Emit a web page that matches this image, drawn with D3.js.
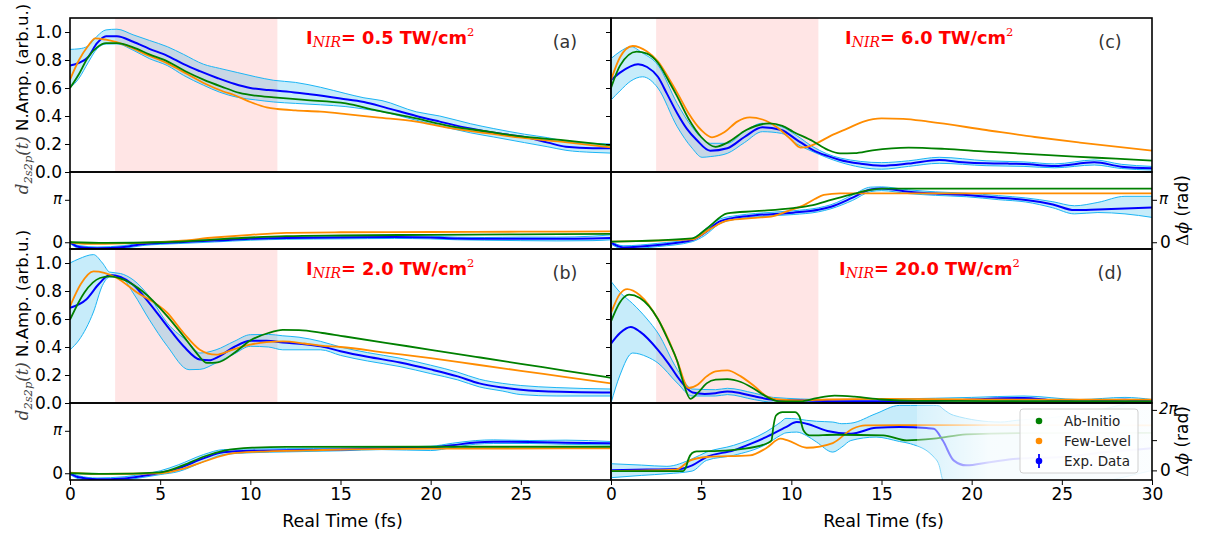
<!DOCTYPE html>
<html>
<head>
<meta charset="utf-8">
<script src="https://cdn.jsdelivr.net/npm/d3@7"></script>
<style>
  body { margin: 0; background: #fff; }
  svg text { font-family: "DejaVu Sans", sans-serif; }
</style>
</head>
<body>
<script>
// ---- data: [time (fs), value] ; bands are [time, low, high]
const xTicks = [0, 5, 10, 15, 20, 25, 30]
const ampTicks = [0, 0.2, 0.4, 0.6, 0.8, 1.0]
const intensities = ['0.5', '2.0', '6.0', '20.0']
const tags = ['(a)', '(b)', '(c)', '(d)']
const legendNames = ['Ab-Initio', 'Few-Level', 'Exp. Data']

// (a) 0.5 TW/cm2
const ampA_blue = [[0,0.76],[0.5,0.78],[1,0.82],[1.5,0.92],[2,0.97],[2.6,0.97],[3.5,0.93],[4.4,0.88],[5.4,0.83],[6.3,0.77],[7.2,0.72],[8.2,0.67],[9.1,0.63],[10,0.60],[11,0.585],[12,0.575],[13.3,0.555],[15,0.525],[16.3,0.50],[17.5,0.46],[19.2,0.40],[20.5,0.36],[22.2,0.31],[23.5,0.28],[25.2,0.25],[26.5,0.21],[27.5,0.18],[29,0.17],[30,0.17]]
const ampA_band = [[0,0.60,0.876],[0.5,0.67,0.88],[1,0.78,0.90],[1.5,0.88,0.97],[2,0.914,1.015],[2.6,0.915,1.02],[3.5,0.87,0.98],[4.4,0.81,0.94],[5.4,0.76,0.895],[6.3,0.69,0.84],[7.4,0.62,0.77],[8.3,0.57,0.74],[9.3,0.533,0.71],[10.3,0.515,0.68],[11.3,0.50,0.655],[12.5,0.49,0.64],[13.9,0.48,0.605],[15.3,0.467,0.56],[16.3,0.45,0.53],[17.3,0.43,0.51],[19.2,0.37,0.43],[20.5,0.33,0.40],[22.2,0.28,0.345],[23.5,0.25,0.31],[25.2,0.21,0.27],[26.5,0.18,0.245],[27.5,0.155,0.22],[29,0.14,0.205],[30,0.135,0.2]]
const ampA_green = [[0,0.60],[0.5,0.70],[1,0.82],[1.5,0.89],[2,0.92],[2.6,0.92],[3.5,0.89],[4.4,0.84],[5.4,0.79],[6.4,0.72],[7.4,0.66],[8.4,0.61],[9.4,0.565],[10.3,0.545],[11.3,0.533],[13,0.515],[15.3,0.49],[17,0.44],[19.2,0.383],[21,0.33],[23.2,0.288],[25,0.255],[27.2,0.229],[30,0.19]]
const ampA_orange = [[0,0.66],[0.5,0.80],[1,0.90],[1.4,0.955],[2,0.945],[3,0.91],[4.2,0.84],[5.4,0.776],[6.5,0.70],[7.5,0.63],[8.5,0.575],[9.1,0.55],[10,0.50],[10.9,0.462],[11.5,0.45],[12.5,0.44],[13.9,0.431],[15.3,0.414],[17,0.39],[19.2,0.36],[21,0.315],[23.2,0.276],[25,0.245],[27.2,0.217],[30,0.176]]
const phA_blue = [[0,0],[0.5,-0.35],[1.5,-0.45],[3,-0.35],[4,-0.15],[6,0],[8,0.12],[10,0.25],[12,0.32],[15,0.35],[18,0.38],[20,0.35],[21.5,0.27],[23,0.25],[25,0.26],[27,0.25],[29,0.28],[30,0.32]]
const phA_band = [[0,-0.1,0.1],[0.5,-0.45,-0.25],[1.5,-0.55,-0.35],[3,-0.45,-0.25],[4,-0.25,-0.05],[6,-0.1,0.1],[8,0.02,0.22],[10,0.15,0.35],[12,0.22,0.42],[15,0.25,0.45],[18,0.28,0.48],[20,0.25,0.45],[21.5,0.18,0.37],[23,0.15,0.35],[25,0.12,0.38],[27,0.1,0.38],[29,0.12,0.45],[30,0.18,0.55]]
const phA_green = [[0,0],[2,-0.05],[5,0],[7,0.12],[10,0.35],[12,0.45],[15,0.5],[20,0.55],[25,0.58],[30,0.62]]
const phA_orange = [[0,0],[1,-0.12],[3,-0.08],[6,0.1],[8,0.35],[10,0.55],[12,0.7],[15,0.74],[20,0.76],[25,0.78],[30,0.8]]

// (b) 2.0 TW/cm2
const ampB_blue = [[0,0.68],[0.9,0.74],[1.6,0.85],[2.2,0.915],[2.8,0.90],[3.5,0.845],[4.4,0.714],[5.4,0.547],[6.3,0.405],[7.2,0.31],[7.7,0.305],[8.3,0.335],[9.1,0.40],[10,0.445],[10.9,0.445],[11.8,0.433],[13,0.42],[13.9,0.405],[15,0.37],[16.5,0.33],[18.3,0.29],[20,0.24],[21.5,0.19],[22.7,0.14],[24,0.11],[25,0.095],[27.2,0.08],[30,0.075]]
const ampB_band = [[0,0.38,1.0],[0.5,0.45,1.03],[1.3,0.65,1.06],[1.8,0.84,1.0],[2.2,0.9,0.935],[2.8,0.9,0.925],[3.5,0.786,0.88],[4.4,0.595,0.76],[5.4,0.405,0.57],[6.6,0.238,0.43],[7.2,0.24,0.357],[8.1,0.286,0.38],[9.1,0.35,0.44],[10,0.405,0.488],[11,0.40,0.49],[11.8,0.38,0.48],[12.7,0.38,0.47],[13.9,0.38,0.44],[15,0.34,0.40],[16.5,0.30,0.36],[18.3,0.26,0.32],[20,0.21,0.27],[21.5,0.165,0.22],[22.7,0.115,0.17],[24,0.085,0.14],[25,0.06,0.125],[27,0.05,0.11],[30,0.05,0.10]]
const ampB_green = [[0,0.595],[0.8,0.79],[1.66,0.893],[2.2,0.905],[3,0.88],[4,0.80],[5.4,0.619],[6.3,0.476],[7,0.36],[7.6,0.286],[8.2,0.29],[9.1,0.357],[10,0.447],[11,0.50],[11.8,0.522],[12.7,0.52],[14,0.50],[15,0.48],[17.5,0.43],[20,0.38],[22.5,0.33],[25,0.28],[27.5,0.23],[30,0.18]]
const ampB_orange = [[0,0.69],[0.6,0.85],[1.3,0.94],[1.9,0.93],[2.6,0.893],[3.6,0.80],[5.4,0.643],[6.3,0.5],[7.2,0.381],[8.1,0.345],[9,0.38],[10,0.417],[10.9,0.435],[11.8,0.44],[13,0.425],[13.9,0.41],[15,0.40],[17.5,0.36],[20,0.32],[22.5,0.275],[25,0.23],[27.5,0.185],[30,0.14]]
const phB_blue = [[0,0],[0.5,-0.3],[1.5,-0.45],[3,-0.38],[4,-0.2],[5,0.04],[6,0.36],[7.4,1.1],[8.5,1.55],[10.1,1.67],[12,1.70],[15,1.76],[17.3,1.84],[20,1.90],[21.2,2.07],[22.5,2.28],[23.5,2.33],[25.5,2.31],[27.5,2.26],[30,2.21]]
const phB_band = [[0,-0.1,0.1],[0.5,-0.42,-0.2],[1.5,-0.57,-0.35],[3,-0.5,-0.26],[4,-0.32,-0.08],[5,-0.1,0.18],[6,0.12,0.62],[7.4,0.85,1.38],[8.5,1.38,1.75],[10.1,1.52,1.8],[12,1.58,1.82],[15,1.66,1.86],[17.3,1.75,1.93],[20,1.68,2.0],[21.2,1.9,2.22],[22.5,2.15,2.42],[23.5,2.2,2.47],[25.5,2.2,2.42],[27.5,2.14,2.45],[30,2.1,2.35]]
const phB_green = [[0,0],[2,-0.05],[5,0.07],[6.3,0.6],[7.4,1.22],[8.55,1.67],[10.1,1.89],[12,1.95],[20,1.96],[30,1.96]]
const phB_orange = [[0,0.05],[1.5,-0.05],[5,0],[6.3,0.35],[7.4,0.85],[9,1.47],[10.5,1.6],[14,1.72],[20,1.82],[30,1.84]]

// (c) 6.0 TW/cm2
const ampC_blue = [[0,0.657],[0.5,0.71],[1.5,0.77],[2,0.75],[2.6,0.68],[3.1,0.56],[3.67,0.42],[4.2,0.31],[4.74,0.23],[5.5,0.152],[6.45,0.17],[7.4,0.25],[8.4,0.32],[9.45,0.30],[10.3,0.23],[11.2,0.157],[12,0.115],[12.7,0.086],[13.8,0.06],[15,0.045],[16.5,0.06],[18.2,0.086],[19.5,0.07],[20.8,0.062],[22,0.06],[22.9,0.057],[24.6,0.043],[26.8,0.069],[28.3,0.038],[30,0.026]]
const ampC_band = [[0,0.514,0.81],[0.5,0.58,0.86],[1.1,0.65,0.895],[1.75,0.68,0.85],[2.6,0.6,0.764],[3.67,0.324,0.49],[4.5,0.17,0.32],[5.05,0.105,0.24],[5.5,0.11,0.205],[6.45,0.133,0.205],[7.4,0.21,0.29],[8.4,0.288,0.348],[9.45,0.276,0.324],[10.3,0.2,0.26],[11.2,0.145,0.18],[12.7,0.07,0.1],[15,0.02,0.067],[16.5,0.04,0.08],[18.2,0.062,0.105],[20.8,0.045,0.08],[22.9,0.04,0.072],[24.6,0.03,0.058],[26.8,0.05,0.086],[28.3,0.025,0.055],[30,0.014,0.04]]
const ampC_green = [[0,0.60],[0.5,0.76],[1.42,0.86],[2,0.845],[2.6,0.78],[3.2,0.65],[3.67,0.54],[4.3,0.38],[5,0.25],[5.8,0.18],[6.45,0.21],[7.5,0.30],[8.8,0.348],[9.5,0.33],[10.1,0.288],[11.2,0.22],[12,0.16],[12.7,0.133],[13.5,0.135],[14.5,0.155],[16.5,0.174],[18.5,0.165],[20.8,0.145],[23,0.13],[25.7,0.11],[28,0.095],[30,0.081]]
const ampC_orange = [[0,0.657],[0.5,0.82],[1.2,0.90],[2,0.86],[2.6,0.79],[3.2,0.67],[3.7,0.56],[4.3,0.42],[5,0.30],[5.6,0.248],[6.3,0.285],[7,0.36],[7.7,0.39],[8.4,0.375],[9.2,0.32],[10,0.23],[10.5,0.175],[10.9,0.18],[11.4,0.205],[12.2,0.26],[13.1,0.31],[14,0.36],[15,0.383],[16.2,0.38],[17.6,0.36],[20.8,0.30],[23.5,0.25],[26,0.21],[30,0.152]]
const phC_blue = [[0,-0.03],[0.67,-0.38],[2.6,-0.2],[4.5,0.16],[5.2,0.7],[6,1.52],[7,1.85],[8,2.0],[10.1,2.19],[11.5,2.4],[12.2,2.63],[13.4,3.3],[14.4,3.9],[15,3.97],[16.5,3.74],[18,3.6],[19.7,3.5],[21.5,3.3],[23,3.13],[24.5,2.8],[25.7,2.38],[27,2.43],[28.5,2.5],[30,2.58]]
const phC_band = [[0,-0.13,0.07],[0.67,-0.5,-0.26],[2.6,-0.32,-0.08],[4.5,0.04,0.28],[5.2,0.5,0.95],[6,1.35,1.7],[7,1.72,1.98],[8,1.87,2.13],[10.1,2.05,2.33],[11.5,2.25,2.55],[12.2,2.48,2.78],[13.4,3.1,3.5],[14.4,3.75,4.08],[15,3.82,4.1],[16.5,3.6,3.88],[18,3.47,3.73],[19.7,3.37,3.63],[21.5,3.15,3.45],[23,2.98,3.28],[24.5,2.55,3.0],[25.7,2.1,2.7],[27,2.2,2.95],[28.5,2.1,3.4],[30,1.84,3.4]]
const phC_green = [[0,0.04],[4.5,0.29],[5.3,1.0],[6.45,2.14],[8,2.3],[10.1,2.53],[11.2,2.75],[12.2,3.13],[13.5,3.6],[14.4,3.87],[15.2,3.97],[30,3.97]]
const phC_orange = [[0,0.04],[4.5,0.21],[5.4,0.9],[6.45,1.6],[8,1.8],[9,1.94],[9.8,2.3],[10.7,2.75],[11.3,3.2],[11.8,3.5],[12.7,3.62],[30,3.62]]

// (d) 20.0 TW/cm2
const ampD_blue = [[0,0.424],[0.5,0.5],[1.1,0.543],[1.6,0.51],[2.6,0.38],[3.2,0.28],[3.67,0.19],[4.1,0.12],[4.53,0.075],[5.2,0.065],[5.8,0.07],[6.45,0.083],[7.2,0.07],[7.95,0.048],[9,0.024],[10.5,0.019],[13,0.012],[15,0.012],[18,0.015],[20,0.025],[22.9,0.036],[24.5,0.02],[26,0.012],[28.5,0.024],[30,0.012]]
const ampD_band = [[0,0,0.869],[0.5,0.2,0.79],[1.2,0.357,0.71],[2,0.33,0.6],[2.6,0.286,0.5],[3.67,0.143,0.24],[4.5,0.05,0.1],[5.8,0.05,0.095],[6.45,0.06,0.105],[7.95,0.024,0.07],[9,0.005,0.04],[12,0.005,0.025],[20,0.005,0.04],[22.9,0.02,0.05],[26,0.003,0.025],[28.5,0.005,0.04],[30,0.003,0.025]]
const ampD_green = [[0,0.583],[0.5,0.72],[1.0,0.774],[1.6,0.75],[2.6,0.6],[3.2,0.44],[3.67,0.3],[4.0,0.15],[4.4,0.03],[4.8,0.07],[5.3,0.14],[5.8,0.167],[6.45,0.171],[7.2,0.15],[7.95,0.1],[8.7,0.04],[9.3,0.012],[10.5,0.012],[11.4,0.035],[12.4,0.052],[13.5,0.045],[15,0.025],[17,0.015],[30,0.012]]
const ampD_orange = [[0,0.643],[0.5,0.78],[0.9,0.814],[1.6,0.77],[2.6,0.6],[3.2,0.45],[3.7,0.29],[4.3,0.107],[4.8,0.13],[5.3,0.19],[5.8,0.226],[6.45,0.233],[7.2,0.19],[7.95,0.12],[8.6,0.05],[9.3,0.025],[10.5,0.019],[12,0.025],[15,0.029],[20,0.025],[30,0.024]]
const phD_blue = [[0,0],[2,0.08],[3.8,0.14],[4.5,0.52],[5.3,1.39],[6.8,2.08],[7.8,2.8],[8.6,3.46],[9.7,4.5],[10.3,5.02],[10.85,4.85],[12,4.1],[13.3,3.81],[14.7,4.43],[16,4.5],[17.5,4.4],[17.9,4.33],[18.4,3.1],[19,1.04],[19.7,0.52],[21,0.85],[22.5,1.21],[25,1.4],[27.5,1.9],[30,2.3]]
const phD_band = [[0,-0.76,0.69],[1.7,-0.52,0.55],[3.1,-0.35,0.42],[4.5,-0.07,1.2],[5.3,1.04,1.9],[6.8,1.56,2.6],[8.6,2.7,4.0],[9.4,3.64,5.0],[9.7,3.9,5.4],[10.3,3.98,5.35],[10.85,3.6,5.2],[11.4,2.94,5.1],[12.3,1.9,5.02],[12.8,2.42,4.85],[13.3,3.1,4.9],[14.7,3.46,5.9],[16,3.0,6.75],[16.6,2.77,6.75],[17.9,1.39,6.75],[18.2,0.5,6.7],[18.4,-1.0,6.4],[19,-2.0,5.72],[21.6,-2.0,5.02],[22.5,-2.0,5.2],[25,-1.8,5.6],[30,0,7.6]]
const phD_green = [[0,-0.07],[4,-0.07],[4.15,0.3],[4.3,1.2],[4.5,1.8],[4.75,1.97],[6,2.02],[7.2,2.2],[8.6,2.77],[8.9,3.1],[9.0,4.5],[9.15,5.7],[9.5,6.06],[10.2,6.06],[10.45,5.6],[10.67,4.16],[11,3.64],[12.5,3.7],[15.1,3.64],[16.4,3.12],[17.9,3.29],[19.7,3.74],[22.7,3.88],[30,3.9]]
const phD_orange = [[0,-0.07],[3.6,0.07],[4.4,1.04],[5.3,1.39],[7.7,1.56],[8.6,2.3],[9.4,3.29],[9.8,3.12],[10.85,2.35],[12.3,2.84],[13.4,4.33],[14.1,4.68],[16,4.7],[30,4.68]]

// ---- layout
const W = 1205, H = 533
const pulse = [2.5, 11.5]
const colors = { blue: '#0000ff', green: '#008000', orange: '#ff8c00', edge: '#1cb5f5' }

const svg = d3.select('body').append('svg')
  .attr('width', W)
  .attr('height', H)
const defs = svg.append('defs')

const xLeft = d3.scaleLinear().domain([0, 30]).range([70, 611])
const xRight = d3.scaleLinear().domain([0, 30]).range([611, 1152])
const rows = [{ top: 18, mid: 172, bot: 249 }, { top: 249, mid: 403, bot: 480 }]

const panels = [
  { x: xLeft, row: 0, side: 'left', amp: [ampA_band, ampA_blue, ampA_orange, ampA_green], ph: [phA_band, phA_blue, phA_orange, phA_green], phDom: [-0.5, 5.2] },
  { x: xLeft, row: 1, side: 'left', amp: [ampB_band, ampB_blue, ampB_orange, ampB_green], ph: [phB_band, phB_blue, phB_orange, phB_green], phDom: [-0.5, 5.2] },
  { x: xRight, row: 0, side: 'right', amp: [ampC_band, ampC_blue, ampC_orange, ampC_green], ph: [phC_band, phC_blue, phC_orange, phC_green], phDom: [-0.5, 5.2] },
  { x: xRight, row: 1, side: 'right', amp: [ampD_band, ampD_blue, ampD_orange, ampD_green], ph: [phD_band, phD_blue, phD_orange, phD_green], phDom: [-1, 7] }
]

let clipCount = 0
function drawSub(x, y, data, extra) {
  const [x0, x1] = x.range()
  const [yb, yt] = y.range()
  const id = 'clip' + (clipCount++)
  defs.append('clipPath').attr('id', id)
    .append('rect').attr('x', x0).attr('y', yt).attr('width', x1 - x0).attr('height', yb - yt)
  const g = svg.append('g').attr('clip-path', `url(#${id})`)
  if (extra) extra(g)
  const [band, blue, orange, green] = data
  g.append('path').datum(band)
    .attr('d', d3.area().x(d => x(d[0])).y0(d => y(d[1])).y1(d => y(d[2])).curve(d3.curveMonotoneX))
    .attr('fill', 'rgba(0,170,230,0.22)')
  const ln = d3.line().x(d => x(d[0])).y(d => y(d[1])).curve(d3.curveMonotoneX)
  const lnHi = d3.line().x(d => x(d[0])).y(d => y(d[2])).curve(d3.curveMonotoneX)
  g.append('path').datum(band).attr('d', ln).attr('fill', 'none').attr('stroke', colors.edge).attr('stroke-width', 1)
  g.append('path').datum(band).attr('d', lnHi).attr('fill', 'none').attr('stroke', colors.edge).attr('stroke-width', 1)
  g.append('path').datum(blue).attr('d', ln).attr('fill', 'none').attr('stroke', colors.blue).attr('stroke-width', 2)
  g.append('path').datum(orange).attr('d', ln).attr('fill', 'none').attr('stroke', colors.orange).attr('stroke-width', 1.8)
  g.append('path').datum(green).attr('d', ln).attr('fill', 'none').attr('stroke', colors.green).attr('stroke-width', 1.8)
  return g
}

// fade used over the right half of panel (d) phase
const grad = defs.append('linearGradient').attr('id', 'fade')
  .attr('gradientUnits', 'userSpaceOnUse').attr('x1', 917).attr('x2', 1152).attr('y1', 0).attr('y2', 0)
grad.append('stop').attr('offset', 0).attr('stop-color', '#fff').attr('stop-opacity', 0.3)
grad.append('stop').attr('offset', 0.31).attr('stop-color', '#fff').attr('stop-opacity', 0.85)
grad.append('stop').attr('offset', 1).attr('stop-color', '#fff').attr('stop-opacity', 0.93)

panels.forEach((p, i) => {
  const r = rows[p.row]
  const yAmp = d3.scaleLinear().domain([0, 1.1]).range([r.mid, r.top])
  const yPh = d3.scaleLinear().domain(p.phDom).range([r.bot, r.mid])
  const x = p.x

  drawSub(x, yAmp, p.amp, g => {
    g.append('rect')
      .attr('x', x(pulse[0])).attr('width', x(pulse[1]) - x(pulse[0]))
      .attr('y', r.top).attr('height', r.mid - r.top)
      .attr('fill', 'rgba(255,0,0,0.1)')
  })
  const gp = drawSub(x, yPh, p.ph)
  if (i === 3) {
    gp.append('rect').attr('x', 917).attr('width', 1152 - 917)
      .attr('y', r.mid).attr('height', r.bot - r.mid).attr('fill', 'url(#fade)')
  }

  // title and tag
  const tx = p.side === 'left' ? 306 : (i === 2 ? 845 : 839)
  const title = svg.append('text').attr('x', tx).attr('y', r.top + 25.5)
    .attr('fill', '#ff0000').attr('font-weight', 'bold').attr('font-size', 17.8)
  title.append('tspan').text('I')
  title.append('tspan').attr('font-family', 'DejaVu Serif').attr('font-style', 'italic')
    .attr('font-weight', 'normal').attr('font-size', 14).attr('dy', 3.5).text('NIR')
  title.append('tspan').attr('dy', -3.5).text('= ' + intensities[i] + ' TW/cm')
  title.append('tspan').attr('font-family', 'DejaVu Serif').attr('font-weight', 'normal')
    .attr('font-size', 11.5).attr('dy', -8).text('2')
  svg.append('text').attr('x', x.range()[1] - (p.side === 'left' ? 46 : 42)).attr('y', r.top + 30)
    .attr('text-anchor', 'middle').attr('font-size', 17.5).attr('fill', '#333').text(tags[i])

  // frames
  const [x0, x1] = x.range()
  svg.append('rect').attr('x', x0).attr('y', r.top).attr('width', x1 - x0).attr('height', r.mid - r.top)
    .attr('fill', 'none').attr('stroke', '#000').attr('stroke-width', 1.6)
  svg.append('rect').attr('x', x0).attr('y', r.mid).attr('width', x1 - x0).attr('height', r.bot - r.mid)
    .attr('fill', 'none').attr('stroke', '#000').attr('stroke-width', 1.6)

  // amplitude ticks
  if (p.side === 'left') {
    const ax = svg.append('g').attr('transform', `translate(${x0},0)`)
      .call(d3.axisLeft(yAmp).tickValues(ampTicks).tickFormat(d3.format('.1f')).tickSize(5).tickPadding(3))
    ax.select('.domain').remove()
    ax.selectAll('text').attr('font-size', 17).attr('font-family', 'DejaVu Sans').attr('fill', '#000')
    const phAx = svg.append('g').attr('transform', `translate(${x0},0)`)
      .call(d3.axisLeft(yPh).tickValues([0, Math.PI]).tickFormat(() => '').tickSize(5))
    phAx.select('.domain').remove()
    svg.append('text').attr('x', x0 - 8).attr('y', yPh(Math.PI)).attr('dy', '0.3em')
      .attr('text-anchor', 'end').attr('font-family', 'DejaVu Serif').attr('font-style', 'italic')
      .attr('font-size', 15).text('π')
    svg.append('text').attr('x', x0 - 7).attr('y', yPh(0)).attr('dy', '0.36em')
      .attr('text-anchor', 'end').attr('font-size', 17).text('0')
  } else {
    const ax = svg.append('g').attr('transform', `translate(${x0},0)`)
      .call(d3.axisLeft(yAmp).tickValues(ampTicks.slice(1)).tickFormat(() => '').tickSize(5))
    ax.select('.domain').remove()
    const phVals = i === 3 ? [0, Math.PI, 2 * Math.PI] : [0, Math.PI]
    const phAx = svg.append('g').attr('transform', `translate(${x1},0)`)
      .call(d3.axisRight(yPh).tickValues(phVals).tickFormat(() => '').tickSize(5))
    phAx.select('.domain').remove()
    svg.append('text').attr('x', x1 + 8).attr('y', yPh(0)).attr('dy', '0.36em')
      .attr('font-size', 17).text('0')
    svg.append('text').attr('x', x1 + 7).attr('y', yPh(i === 3 ? 2 * Math.PI : Math.PI)).attr('dy', '0.3em')
      .attr('font-family', 'DejaVu Serif').attr('font-style', 'italic')
      .attr('font-size', 15).text(i === 3 ? '2π' : 'π')
    svg.append('text')
      .attr('transform', `translate(1188,${(r.mid + r.bot) / 2}) rotate(-90)`)
      .attr('text-anchor', 'middle').attr('font-size', 17)
      .call(t => {
        t.append('tspan').attr('font-family', 'DejaVu Serif').text('Δ')
        t.append('tspan').attr('font-family', 'DejaVu Serif').attr('font-style', 'italic').text('ϕ')
        t.append('tspan').text(' (rad)')
      })
  }

  // left y label
  if (p.side === 'left') {
    svg.append('text')
      .attr('transform', `translate(28,${p.row === 0 ? 99 : 325}) rotate(-90)`)
      .attr('text-anchor', 'middle').attr('font-size', 16.5)
      .call(t => {
        t.append('tspan').attr('font-family', 'DejaVu Serif').attr('font-style', 'italic').attr('fill', '#444').text('d')
        t.append('tspan').attr('font-family', 'DejaVu Serif').attr('font-style', 'italic').attr('fill', '#444')
          .attr('font-size', 11.5).attr('dy', 4).text('2s2p')
        t.append('tspan').attr('font-family', 'DejaVu Serif').attr('font-style', 'italic').attr('fill', '#444')
          .attr('dy', -4).text('(t)')
        t.append('tspan').attr('fill', '#000').text(' N.Amp. (arb.u.)')
      })
  }

  // x axis at the bottom row
  if (p.row === 1) {
    const xa = svg.append('g').attr('transform', `translate(0,${r.bot})`)
      .call(d3.axisBottom(x).tickValues(p.side === 'left' ? xTicks.slice(0, 6) : xTicks).tickSize(5).tickPadding(3))
    xa.select('.domain').remove()
    xa.selectAll('text').attr('font-size', 17).attr('font-family', 'DejaVu Sans').attr('fill', '#000')
    svg.append('text').attr('x', (x0 + x1) / 2 + 2).attr('y', 527)
      .attr('text-anchor', 'middle').attr('font-size', 17.5).text('Real Time (fs)')
  }
})

// legend in panel (d) phase
const lg = svg.append('g')
lg.append('rect').attr('x', 1020).attr('y', 409).attr('width', 118).attr('height', 64).attr('rx', 3)
  .attr('fill', 'rgba(255,255,255,0.8)').attr('stroke', '#d0d0d0')
const legendColors = [colors.green, colors.orange, colors.blue]
legendNames.forEach((name, k) => {
  const cy = 421 + k * 20
  if (k === 2) {
    lg.append('line').attr('x1', 1039).attr('x2', 1039).attr('y1', cy - 7).attr('y2', cy + 7)
      .attr('stroke', colors.blue).attr('stroke-width', 1.8)
  }
  lg.append('circle').attr('cx', 1039).attr('cy', cy).attr('r', 3.3).attr('fill', legendColors[k])
  lg.append('text').attr('x', 1064).attr('y', cy).attr('dy', '0.36em')
    .attr('font-size', 13.5).attr('fill', '#222').text(name)
})
</script>
</body>
</html>
